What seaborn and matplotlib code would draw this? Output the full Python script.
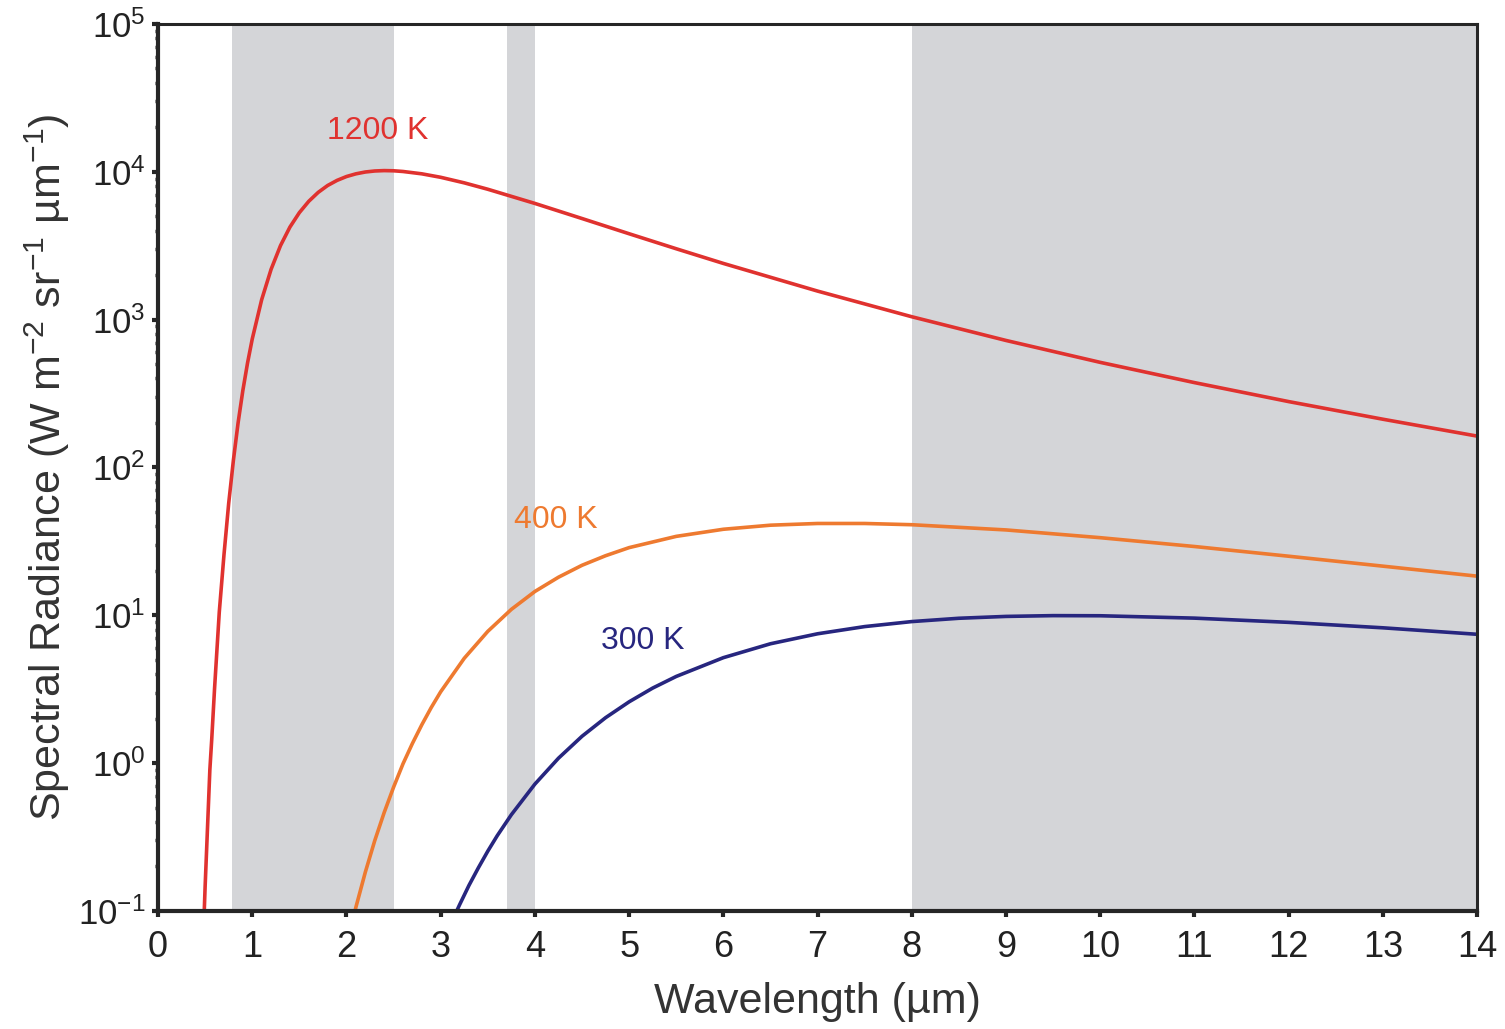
import pandas as pd
import matplotlib
matplotlib.use('Agg')
import matplotlib.pyplot as plt
import seaborn as sns

# values (W m-2 sr-1 um-1)
wl_1200 = [0.47, 0.5, 0.52, 0.55, 0.57, 0.6, 0.65, 0.7, 0.75, 0.8, 0.85, 0.9, 0.95, 1.0, 1.1, 1.2,
           1.3, 1.4, 1.5, 1.6, 1.7, 1.8, 1.9, 2.0, 2.1, 2.2, 2.3, 2.4, 2.5, 2.6, 2.8, 3.0, 3.25,
           3.5, 4.0, 4.5, 5.0, 5.5, 6.0, 7.0, 8.0, 9.0, 10.0, 11.0, 12.0, 13.0, 14.0]
rad_1200 = [0.043, 0.147, 0.303, 0.9, 1.45, 3.2, 10.5, 25.7, 57.2, 112, 201, 331, 509, 740, 1365, 2190,
            3170, 4230, 5295, 6320, 7260, 8080, 8750, 9290, 9690, 9970, 10130, 10190, 10160, 10050,
            9690, 9180, 8420, 7620, 6110, 4830, 3810, 3016, 2400, 1560, 1046, 723, 514, 375, 279,
            212, 163]

wl_400 = [2.0, 2.05, 2.1, 2.2, 2.3, 2.4, 2.5, 2.6, 2.7, 2.8, 2.9, 3.0, 3.25, 3.5, 3.75, 4.0,
          4.25, 4.5, 4.75, 5.0, 5.5, 6.0, 6.5, 7.0, 7.5, 8.0, 9.0, 10.0, 11.0, 12.0, 13.0, 14.0]
rad_400 = [0.057, 0.079, 0.106, 0.183, 0.299, 0.463, 0.688, 0.99, 1.36, 1.82, 2.38, 3.04, 5.12,
           7.79, 10.97, 14.5, 18.1, 21.8, 25.3, 28.7, 34.2, 38.2, 40.7, 41.8, 41.8, 41.0, 37.8,
           33.5, 29.2, 25.1, 21.5, 18.4]

wl_300 = [3.1, 3.2, 3.3, 3.4, 3.5, 3.6, 3.75, 4.0, 4.25, 4.5, 4.75, 5.0, 5.25, 5.5, 6.0, 6.5,
          7.0, 7.5, 8.0, 8.5, 9.0, 9.5, 10.0, 11.0, 12.0, 13.0, 14.0]
rad_300 = [0.080, 0.110, 0.149, 0.196, 0.254, 0.323, 0.448, 0.722, 1.08, 1.52, 2.03, 2.60, 3.22,
           3.86, 5.17, 6.42, 7.50, 8.39, 9.07, 9.55, 9.83, 9.95, 9.93, 9.57, 8.96, 8.23, 7.44]

# shaded bands (um)
bands = [(0.78, 2.5), (3.7, 4.0), (8.0, 14.0)]

labels = ['1200 K', '400 K', '300 K']
colors = ['#e0322f', '#ee7a30', '#27267f']
label_pos = [(2.33, 1.9e4), (4.22, 44), (5.14, 6.7)]

df = pd.concat([
    pd.DataFrame({'wl': wl_1200, 'rad': rad_1200, 'T': '1200 K'}),
    pd.DataFrame({'wl': wl_400, 'rad': rad_400, 'T': '400 K'}),
    pd.DataFrame({'wl': wl_300, 'rad': rad_300, 'T': '300 K'}),
])

sns.set_style('ticks')
plt.rcParams['font.family'] = ['Liberation Sans', 'DejaVu Sans']
plt.rcParams['mathtext.default'] = 'regular'
plt.rcParams['axes.unicode_minus'] = False

fig = plt.figure(figsize=(15.05, 10.29), dpi=100)
ax = fig.add_axes([0.105, 0.1147, 0.8765, 0.862])

for a, b in bands:
    ax.axvspan(a, b, color='#d4d5d8', lw=0, zorder=0)

sns.lineplot(data=df, x='wl', y='rad', hue='T', palette=dict(zip(labels, colors)),
             linewidth=2.6, legend=False, ax=ax, sort=False, estimator=None)

ax.set_yscale('log')
ax.set_xlim(0, 14)
ax.set_ylim(0.1, 1e5)
ax.set_xticks(range(0, 15))

for lab, col, (x, y) in zip(labels, colors, label_pos):
    ax.text(x, y, lab, color=col, fontsize=23, ha='center', va='center')

ax.set_xlabel('Wavelength (\u00b5m)', fontsize=31, color='#333333', labelpad=12)
ax.set_ylabel('Spectral Radiance (W m$^{-2}$ sr$^{-1}$ \u00b5m$^{-1}$)', fontsize=31,
              color='#333333', labelpad=4)

for s in ['left', 'bottom']:
    ax.spines[s].set_linewidth(3)
for s in ['top', 'right']:
    ax.spines[s].set_linewidth(2.2)
    ax.spines[s].set_visible(True)

ax.tick_params(axis='both', which='major', labelcolor='#222222',
               direction='out', length=4, width=3)
ax.tick_params(axis='x', which='major', labelsize=26, pad=10)
ax.tick_params(axis='y', which='major', labelsize=25, pad=5)
ax.tick_params(axis='y', which='minor', length=2.5, width=2.5)
ax.tick_params(axis='x', which='minor', length=0)
ax.tick_params(top=False, right=False)

fig.savefig('out.png', dpi=100)
